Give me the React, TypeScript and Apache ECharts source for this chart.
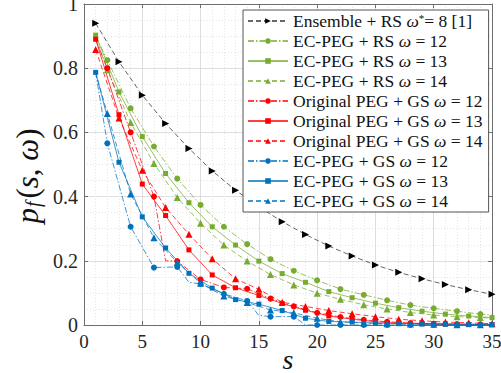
import React, { useEffect, useRef } from "react";
import * as echarts from "echarts";

// ---- data (x = s, y = p_f(s, omega)) ----
const S_ODD = [1, 3, 5, 7, 9, 11, 13, 15, 17, 19, 21, 23, 25, 27, 29, 31, 33, 35];
const S_EVEN = [1, 2, 4, 6, 8, 10, 12, 14, 16, 18, 20, 22, 24, 26, 28, 30, 32, 34, 35];
const S_ORIG12 = [1, 2, 4, 6, 7, 8, 10, 12, 14, 16, 18, 20, 22, 24, 26, 28, 30, 32, 34, 35];
const S_GS12 = [1, 2, 4, 6, 8, 9, 10, 12, 14, 15, 16, 18, 19, 20, 22, 24, 26, 28, 30, 32, 34, 35];

const ensemble = [0.94, 0.82, 0.716, 0.628, 0.55, 0.48, 0.42, 0.368, 0.322, 0.282, 0.246, 0.215, 0.187, 0.164, 0.144, 0.126, 0.11, 0.096];

const rs12 = [0.9, 0.825, 0.675, 0.556, 0.456, 0.374, 0.306, 0.252, 0.205, 0.169, 0.139, 0.112, 0.094, 0.077, 0.062, 0.052, 0.043, 0.034, 0.031];
const rs13 = [0.903, 0.726, 0.587, 0.472, 0.381, 0.306, 0.249, 0.199, 0.16, 0.133, 0.104, 0.085, 0.068, 0.054, 0.043, 0.034, 0.028, 0.023];
const rs14 = [0.895, 0.795, 0.631, 0.503, 0.397, 0.317, 0.249, 0.199, 0.157, 0.125, 0.099, 0.08, 0.063, 0.05, 0.039, 0.031, 0.026, 0.023, 0.022];

const orig12 = [0.89, 0.8, 0.6, 0.4, 0.2, 0.199, 0.142, 0.117, 0.113, 0.082, 0.058, 0.038, 0.025, 0.016, 0.01, 0.006, 0.004, 0.003, 0.002, 0.002];
const orig13 = [0.89, 0.655, 0.439, 0.341, 0.234, 0.156, 0.116, 0.092, 0.067, 0.046, 0.028, 0.018, 0.01, 0.006, 0.004, 0.003, 0.002, 0.001];
const orig14 = [0.858, 0.645, 0.482, 0.366, 0.283, 0.206, 0.144, 0.111, 0.071, 0.058, 0.045, 0.035, 0.026, 0.018, 0.013, 0.009, 0.007, 0.004];

const gs12 = [0.787, 0.566, 0.306, 0.179, 0.181, 0.133, 0.128, 0.097, 0.075, 0.03, 0.026, 0.026, 0, 0, 0, 0, 0, 0, 0, 0, 0, 0];
const gs13 = [0.787, 0.507, 0.337, 0.24, 0.161, 0.115, 0.079, 0.065, 0.045, 0.021, 0.011, 0.009, 0.006, 0.004, 0.003, 0.002, 0.001, 0.001];
const gs14 = [0.787, 0.659, 0.408, 0.272, 0.195, 0.13, 0.09, 0.07, 0.047, 0.038, 0.021, 0.01, 0.006, 0.004, 0.003, 0.002, 0.001, 0.001, 0.001];

const X_TICKS = { min: 0, max: 35, interval: 5 };
const Y_TICKS = { min: 0, max: 1, interval: 0.2 };

const NAMES = [
  "Ensemble + RS ω*= 8 [1]",
  "EC-PEG + RS ω = 12",
  "EC-PEG + RS ω = 13",
  "EC-PEG + RS ω = 14",
  "Original PEG + GS ω = 12",
  "Original PEG + GS ω = 13",
  "Original PEG + GS ω = 14",
  "EC-PEG + GS ω = 12",
  "EC-PEG + GS ω = 13",
  "EC-PEG + GS ω = 14",
];

// ---- styling ----
const SERIF = "Liberation Serif";
const GREEN = "#77AC30";
const RED = "#FF0000";
const BLUE = "#0072BD";
const BLACK = "#000000";
const DASH = [5, 3];
const DASHDOT = [6, 2, 1.5, 2];

function pts(xs: number[], ys: number[], parity: number) {
  return xs.map((x, i) =>
    x % 2 === parity ? [x, ys[i]] : { value: [x, ys[i]], symbol: "none" }
  );
}

type Spec = {
  name: string;
  xs: number[];
  ys: number[];
  parity: number;
  color: string;
  symbol: string;
  size: number;
  rotate?: number;
  line: any;
  lineColor?: string;
};

const SPECS: Spec[] = [
  { name: NAMES[0], xs: S_ODD, ys: ensemble, parity: 1, color: BLACK, symbol: "triangle", size: 7, rotate: -90, line: DASH, lineColor: "#333" },
  { name: NAMES[1], xs: S_EVEN, ys: rs12, parity: 0, color: GREEN, symbol: "circle", size: 6, line: DASHDOT },
  { name: NAMES[2], xs: S_ODD, ys: rs13, parity: 1, color: GREEN, symbol: "rect", size: 5, line: "solid" },
  { name: NAMES[3], xs: S_EVEN, ys: rs14, parity: 0, color: GREEN, symbol: "triangle", size: 7, line: DASH },
  { name: NAMES[4], xs: S_ORIG12, ys: orig12, parity: 0, color: RED, symbol: "circle", size: 6, line: DASHDOT },
  { name: NAMES[5], xs: S_ODD, ys: orig13, parity: 1, color: RED, symbol: "rect", size: 5, line: "solid" },
  { name: NAMES[6], xs: S_ODD, ys: orig14, parity: 1, color: RED, symbol: "triangle", size: 7, line: DASH },
  { name: NAMES[7], xs: S_GS12, ys: gs12, parity: 0, color: BLUE, symbol: "circle", size: 6, line: DASHDOT },
  { name: NAMES[8], xs: S_ODD, ys: gs13, parity: 1, color: BLUE, symbol: "rect", size: 5, line: "solid" },
  { name: NAMES[9], xs: S_EVEN, ys: gs14, parity: 0, color: BLUE, symbol: "triangle", size: 7, line: DASH },
];

const LEGEND_RICH: Record<string, string> = {
  [NAMES[0]]: "{r|Ensemble + RS }{i|ω}{s|*}{r|= 8 [1]}",
  [NAMES[1]]: "{r|EC-PEG + RS }{i|ω}{r| = 12}",
  [NAMES[2]]: "{r|EC-PEG + RS }{i|ω}{r| = 13}",
  [NAMES[3]]: "{r|EC-PEG + RS }{i|ω}{r| = 14}",
  [NAMES[4]]: "{r|Original PEG + GS }{i|ω}{r| = 12}",
  [NAMES[5]]: "{r|Original PEG + GS }{i|ω}{r| = 13}",
  [NAMES[6]]: "{r|Original PEG + GS }{i|ω}{r| = 14}",
  [NAMES[7]]: "{r|EC-PEG + GS }{i|ω}{r| = 12}",
  [NAMES[8]]: "{r|EC-PEG + GS }{i|ω}{r| = 13}",
  [NAMES[9]]: "{r|EC-PEG + GS }{i|ω}{r| = 14}",
};

const AXIS_COLOR = "#6e6e6e";

export default function App() {
  const ref = useRef<HTMLDivElement>(null);
  useEffect(() => {
    if (!ref.current) return;
    const chart = echarts.init(ref.current, undefined, { renderer: "svg" });
    const LH = 17;
    const FS = 17.5;
    const YN = 31;
    const baseAxis = {
      type: "value" as const,
      axisLine: { show: true, onZero: false, lineStyle: { color: AXIS_COLOR, width: 1 } },
      axisTick: { show: true, inside: true, length: 4, lineStyle: { color: AXIS_COLOR } },
    };
    chart.setOption({
      animation: false,
      backgroundColor: "#ffffff",
      grid: { left: 84, right: 9, top: 4, bottom: 48, containLabel: false, outerBoundsMode: "none" },
      graphic: [
        {
          type: "text",
          x: 27,
          y: 176,
          rotation: Math.PI / 2,
          style: {
            text: "{p|p}{f|f}{n|(}{s|s}{n|, }{w|ω}{n|)}",
            align: "center",
            verticalAlign: "middle",
            rich: {
              p: { fontFamily: SERIF, fontSize: YN, fontStyle: "italic", fill: "#111", lineHeight: 32 },
              f: { fontFamily: SERIF, fontSize: 20, fontStyle: "italic", fill: "#111", lineHeight: 20, verticalAlign: "bottom", padding: [0, 3, 0, 1] },
              n: { fontFamily: SERIF, fontSize: YN, fill: "#111", lineHeight: 32 },
              s: { fontFamily: SERIF, fontSize: YN, fontStyle: "italic", fill: "#111", lineHeight: 32 },
              w: { fontFamily: SERIF, fontSize: YN, fontStyle: "italic", fill: "#111", lineHeight: 32 },
            },
          },
        },
      ],
      legend: {
        orient: "vertical",
        left: 243,
        top: 10,
        padding: [2, 6, 2, 4],
        itemGap: 2,
        itemWidth: 40,
        itemHeight: 7,
        backgroundColor: "#ffffff",
        borderColor: "#555555",
        borderWidth: 1,
        data: NAMES,
        formatter: (name: string) => LEGEND_RICH[name] || name,
        textStyle: {
          fontFamily: SERIF,
          fontSize: FS,
          color: "#111",
          rich: {
            r: { fontFamily: SERIF, fontSize: FS, color: "#111", lineHeight: LH },
            i: { fontFamily: SERIF, fontSize: FS, fontStyle: "italic", color: "#111", lineHeight: LH },
            s: { fontFamily: SERIF, fontSize: 11, color: "#111", lineHeight: 11, verticalAlign: "top" },
          },
        },
      },
      xAxis: [
        {
          ...baseAxis,
          min: X_TICKS.min,
          max: X_TICKS.max,
          interval: X_TICKS.interval,
          position: "bottom",
          name: "s",
          nameLocation: "middle",
          nameGap: 20,
          nameMoveOverlap: false,
          nameTextStyle: { fontFamily: SERIF, fontSize: 28, fontStyle: "italic", color: "#111" },
          axisLabel: { fontFamily: SERIF, fontSize: 19, color: "#262626", margin: 7 },
          splitLine: { show: true, lineStyle: { color: "#dedede", width: 1 } },
          minorTick: { show: false, splitNumber: 5 },
          minorSplitLine: { show: true, lineStyle: { color: "#e4e4e4", width: 1, type: [1, 2] } },
        },
        {
          ...baseAxis,
          min: X_TICKS.min,
          max: X_TICKS.max,
          interval: X_TICKS.interval,
          position: "top",
          axisLabel: { show: false },
          splitLine: { show: false },
        },
      ],
      yAxis: [
        {
          ...baseAxis,
          min: Y_TICKS.min,
          max: Y_TICKS.max,
          interval: Y_TICKS.interval,
          position: "left",
          axisLabel: { fontFamily: SERIF, fontSize: 20, color: "#262626", margin: 6 },
          splitLine: { show: true, lineStyle: { color: "#dedede", width: 1 } },
          minorTick: { show: false, splitNumber: 4 },
          minorSplitLine: { show: true, lineStyle: { color: "#e4e4e4", width: 1, type: [1, 2] } },
        },
        {
          ...baseAxis,
          min: Y_TICKS.min,
          max: Y_TICKS.max,
          interval: Y_TICKS.interval,
          position: "right",
          axisLabel: { show: false },
          splitLine: { show: false },
        },
      ],
      series: SPECS.map((s) => ({
        type: "line",
        name: s.name,
        xAxisIndex: 0,
        yAxisIndex: 0,
        data: pts(s.xs, s.ys, s.parity),
        symbol: s.symbol,
        symbolSize: s.size,
        symbolRotate: s.rotate || 0,
        showAllSymbol: true,
        clip: false,
        itemStyle: { color: s.color, opacity: 1 },
        lineStyle: { color: s.lineColor || s.color, width: 1, type: s.line, opacity: 0.75 },
        emphasis: { disabled: true },
      })),
    });
    return () => chart.dispose();
  }, []);
  return (
    <div
      ref={ref}
      style={{ position: "absolute", left: 0, top: 0, width: 501, height: 373, background: "#fff" }}
    />
  );
}
